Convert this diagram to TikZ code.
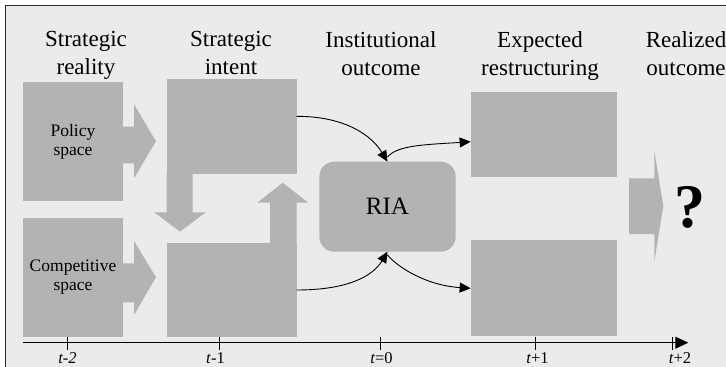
\documentclass[tikz,border=0pt]{standalone}
\usepackage{fontspec}
\setmainfont{Liberation Serif}
\usetikzlibrary{arrows.meta}
\definecolor{bg}{HTML}{EBEBEB}
\definecolor{boxgray}{HTML}{B3B3B3}
\definecolor{framecol}{HTML}{2A2A2A}
\begin{document}
\begin{tikzpicture}[x=1pt,y=-1pt,
  blk/.style={fill=boxgray, draw=none, inner sep=0pt, outer sep=0pt},
  headlbl/.style={font=\fontsize{23}{28}\selectfont, align=center, inner sep=0pt, anchor=north},
  inlabel/.style={font=\fontsize{17.5}{19}\selectfont, align=center},
  conn/.style={-{Triangle[length=11pt,width=10pt]}, line width=0.9pt},
  axisline/.style={-{Triangle[length=13pt,width=12pt]}, line width=0.9pt},
  ticks/.style={line width=0.9pt},
  tlabel/.style={font=\fontsize{16.5}{18}\selectfont, anchor=base, inner sep=0pt}
]
\useasboundingbox (0,0) rectangle (726,367);
\fill[white] (0,0) rectangle (726,367);
\fill[bg] (5.5,5.5) rectangle (727,368);
\draw[line width=1.3pt, color=framecol] (5.5,368) -- (5.5,5.5) -- (727,5.5);

% headers
\node[headlbl] (h1) at (86,31) {Strategic\\reality};
\node[headlbl] (h2) at (231,31) {Strategic\\intent};
\node[headlbl] (h3) at (381,31) {Institutional\\outcome};
\node[headlbl] (h4) at (540,31) {Expected\\restructuring};
\node[headlbl] (h5) at (686,31) {Realized\\outcome};

% boxes
\node[blk, inlabel, minimum width=100pt, minimum height=119pt] (pol) at (73,141.5) {Policy\\space};
\node[blk, inlabel, minimum width=100pt, minimum height=118.5pt] (comp) at (73,277.5) {Competitive\\space};
\node[blk, minimum width=130pt, minimum height=95.5pt] (si1) at (231.7,126.7) {};
\node[blk, minimum width=130pt, minimum height=94pt] (si2) at (231.7,289.7) {};
\node[blk, rounded corners=15pt, minimum width=136.4pt, minimum height=90pt,
      font=\fontsize{25}{28}\selectfont] (ria) at (387.5,206.7) {RIA};
\node[blk, minimum width=146.3pt, minimum height=84.4pt] (er1) at (543.8,134.5) {};
\node[blk, minimum width=146.3pt, minimum height=95.7pt] (er2) at (543.8,287.8) {};
\node[font=\fontsize{62}{62}\selectfont\bfseries, inner sep=0pt] (q) at (689.5,207.5) {?};

% block arrows
\fill[boxgray] (123,126.7) -- (134,126.7) -- (134,104.3) -- (156,141.3) -- (134,178.3) -- (134,163.3) -- (123,163.3) -- cycle;
\fill[boxgray] (123,263.3) -- (134,263.3) -- (134,241) -- (156,277.3) -- (134,315) -- (134,302.3) -- (123,302.3) -- cycle;
\fill[boxgray] (166.7,174) -- (192.7,174) -- (192.7,212.3) -- (205.7,212.3) -- (180,231.7) -- (154.3,212.3) -- (166.7,212.3) -- cycle;
\fill[boxgray] (270,243) -- (296.7,243) -- (296.7,202.7) -- (308.3,202.7) -- (282.7,182.7) -- (257.3,202.7) -- (270,202.7) -- cycle;
\fill[boxgray] (629,178.3) -- (654.3,178.3) -- (654.3,150.7) -- (663.3,206) -- (654.3,261.7) -- (654.3,234) -- (629,234) -- cycle;

% connectors
\coordinate (riatop) at ([yshift=4.7pt]ria.north);
\coordinate (riabot) at ([yshift=-3.3pt]ria.south);
\draw[conn] ([yshift=10.4pt]si1.east) .. controls +(50,0) and +(-15,-25) .. (ria.north);
\draw[conn] (riatop) .. controls +(10,-12) and +(-45,3) .. ([yshift=-7.2pt]er1.west);
\draw[conn] ([yshift=-0.3pt]si2.east) .. controls +(50,0) and +(-15,25) .. (ria.south);
\draw[conn] (riabot) .. controls +(10,12) and +(-45,-3) .. ([yshift=-0.5pt]er2.west);

% time axis
\coordinate (ax0) at (23.3,342.7);
\coordinate (ax1) at (688.3,342.7);
\draw[axisline] (ax0) -- (ax1);
\foreach \tx/\nm in {67.7/a, 219/b, 380.7/c, 535.7/d, 672.7/e}{
  \coordinate (tt\nm) at (\tx,336.7);
  \coordinate (tb\nm) at (\tx,350);
  \draw[ticks] (tt\nm) -- (tb\nm);
}
\node[tlabel] (l1) at (67.5,363) {\textit{t-2}};
\node[tlabel] (l2) at (215.5,363) {\textit{t}-1};
\node[tlabel] (l3) at (381.5,363) {\textit{t}=0};
\node[tlabel] (l4) at (537.5,363) {\textit{t}+1};
\node[tlabel] (l5) at (680,363) {\textit{t}+2};
\end{tikzpicture}
\end{document}
